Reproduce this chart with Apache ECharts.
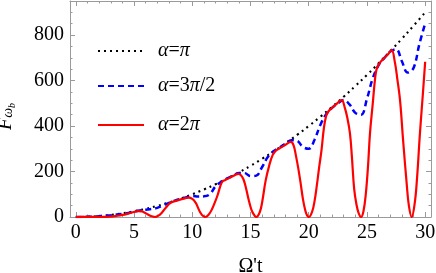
<!DOCTYPE html>
<html><head><meta charset="utf-8">
<script src="https://cdn.jsdelivr.net/npm/echarts@6/dist/echarts.min.js"></script>
<style>html,body{margin:0;padding:0;background:#fff}#c{width:436px;height:273px}</style>
</head><body><div id="c"></div>
<script>
const FONT = '"Liberation Serif","Times New Roman",serif';
const xTickLabels = [0, 5, 10, 15, 20, 25, 30];
const yTickLabels = [0, 200, 400, 600, 800];
const seriesNames = ['α=π', 'α=3π/2', 'α=2π'];

// α = π (dotted black)
const blackT = [0,1,2,3,4,5,6,7,8,9,10,11,12,13,14,15,16,17,18,19,20,21,22,23,24,25,26,27,28,29,30];
const blackF = [0,1,4,9,16,25,36,49,64,81,100,121,144,169,196,225,256,289,324,361,400,441,484,529,576,625,676,729,784,841,900];

// α = 3π/2 (dashed blue)
const blueT = [0,0.5,1,1.5,2,2.5,3,3.5,4,4.5,5,5.5,6,6.5,7,7.5,8,8.5,9,9.5,10,10.5,11,11.5,12,12.5,13,13.5,14,14.5,15,15.5,16,16.5,17,17.5,18,18.5,19,19.5,20,20.5,21,21.5,22,22.5,23,23.5,24,24.5,25,25.5,26,26.5,27,27.5,28,28.5,29,29.5,30];
const blueF = [0,0.2,1,2,3.5,5,7.5,11,14,18,24,29,32,35,40,51,62,72,80,87,92,90,91,100,135,155,170,182,194,193,180,182,220,265,290,306,322,338,335,308,300,340,405,452,480,500,515,495,458,450,520,610,668,700,728,738,685,635,655,760,851];

// α = 2π (solid red)
const redT = [0,1,2,2.5,3,3.5,4,4.5,5,5.35,5.7,6.0,6.3,6.6,6.8,
  7.1,7.4,7.7,8.0,8.2,8.4,8.8,9.2,9.65,10.0,10.3,10.5,10.65,10.85,11.1,
  11.4,11.7,12.0,12.2,12.4,12.6,12.8,13.2,13.6,13.96,14.2,14.4,14.6,14.8,15.0,15.2,15.5,
  15.8,16.0,16.3,16.6,16.9,17.2,17.6,18.0,18.47,18.7,18.9,19.1,19.3,19.5,19.7,19.85,20.0,
  20.3,20.5,20.7,20.9,21.1,21.3,21.5,21.7,22.0,22.4,22.83,23.1,23.3,23.54,23.7,23.9,24.1,24.3,24.5,
  24.7,24.9,25.1,25.26,25.5,25.7,25.85,26.1,26.5,26.8,27.12,27.4,27.6,27.84,28.1,28.41,28.6,28.84,
  29.1,29.3,29.55,29.8,30.0];
const redF = [0,0.3,0.5,0.5,2,5,9,15,22,26,24,17,8,2,0,
  6,20,39,57,64,68,74,80,85,80,62,40,23,8,0,
  10,35,72,100,135,157,162,172,183,190,183,165,130,85,45,18,0,
  22,65,160,225,272,293,305,318,330,315,270,215,150,80,30,8,0,
  25,70,140,220,295,390,445,465,480,498,514,480,440,368,270,125,55,15,0,
  25,100,230,368,500,610,655,678,700,715,734,680,610,514,340,148,50,0,
  60,170,368,540,683];

const pairs = (a, b) => a.map((v, i) => [v, b[i]]);
const xMinor = []; for (let i = 0; i <= 30; i++) if (i % 5) xMinor.push(i);
const yMinor = []; for (let v = 0; v <= 950; v += 50) if (v % 200) yMinor.push(v);
const GRAY = '#9a9a9a';
const XMIN = -0.5, XMAX = 30.5, YMIN = 0, YMAX = 950;

function xAxis(grid, pos, ticks, len, line, labels) {
  return {
    type: 'value', gridIndex: grid, position: pos, min: XMIN, max: XMAX,
    axisLine: { show: line, onZero: false, lineStyle: { color: GRAY, width: 1 } },
    axisTick: { show: true, inside: true, length: len, customValues: ticks, lineStyle: { color: GRAY, width: 1 } },
    axisLabel: { show: labels, customValues: ticks, fontFamily: FONT, fontSize: 20, color: '#000', margin: 6 },
    splitLine: { show: false }
  };
}
function yAxis(grid, pos, ticks, len, line, labels) {
  return {
    type: 'value', gridIndex: grid, position: pos, min: YMIN, max: YMAX,
    axisLine: { show: line, onZero: false, lineStyle: { color: GRAY, width: 1 } },
    axisTick: { show: true, inside: true, length: len, customValues: ticks, lineStyle: { color: GRAY, width: 1 } },
    axisLabel: { show: labels, customValues: ticks, fontFamily: FONT, fontSize: 20, color: '#000', margin: 6 },
    splitLine: { show: false }
  };
}

const gridBox = { left: 70, right: 5, top: 1, bottom: 56, outerBoundsMode: 'none', containLabel: false };
const xA0 = xAxis(0, 'bottom', xTickLabels, 5, true, true);
xA0.name = "Ω't"; xA0.nameLocation = 'middle'; xA0.nameGap = 40;
xA0.nameTextStyle = { fontFamily: FONT, fontSize: 20, color: '#000' };

const yA0 = yAxis(0, 'left', yTickLabels, 5, true, true);
yA0.name = '{f|F}{s|ω}{t|b}';
yA0.nameLocation = 'middle'; yA0.nameRotate = 90; yA0.nameGap = 51;
yA0.nameTextStyle = {
  padding: [0, 15, 0, 0],
  rich: {
    f: { fontFamily: FONT, fontSize: 20, fontStyle: 'italic', color: '#000', lineHeight: 26, verticalAlign: 'middle' },
    s: { fontFamily: FONT, fontSize: 14, fontStyle: 'italic', color: '#000', lineHeight: 14, verticalAlign: 'bottom', padding: [0, 0, 4, 0] },
    t: { fontFamily: FONT, fontSize: 10, fontStyle: 'italic', color: '#000', lineHeight: 10, verticalAlign: 'bottom', padding: [0, 0, 2, 0] }
  }
};

const legendBase = (name, top) => ({
  data: [name], left: 97, top: top, orient: 'vertical', padding: 0,
  itemWidth: 46, itemHeight: 14, selectedMode: false,
  itemStyle: { opacity: 0 },
  formatter: n => n === 'α=π' ? '{i|α}{n|=}{i|π}' : n === 'α=3π/2' ? '{i|α}{n|=3}{i|π}{n|/2}' : '{i|α}{n|=2}{i|π}',
  textStyle: {
    padding: [0, 0, 0, 9],
    rich: {
      i: { fontFamily: FONT, fontSize: 20, fontStyle: 'italic', color: '#000' },
      n: { fontFamily: FONT, fontSize: 20, color: '#000' }
    }
  }
});

const option = {
  animation: false,
  backgroundColor: '#fff',
  grid: [Object.assign({}, gridBox), Object.assign({}, gridBox)],
  xAxis: [xA0, xAxis(0, 'top', xTickLabels, 5, true, false),
          xAxis(1, 'bottom', xMinor, 2.5, false, false), xAxis(1, 'top', xMinor, 2.5, false, false)],
  yAxis: [yA0, yAxis(0, 'right', yTickLabels, 5, true, false),
          yAxis(1, 'left', yMinor, 2.5, false, false), yAxis(1, 'right', yMinor, 2.5, false, false)],
  legend: [legendBase(seriesNames[0], 41), legendBase(seriesNames[1], 76), legendBase(seriesNames[2], 115)],
  series: [
    { name: seriesNames[0], type: 'line', xAxisIndex: 0, yAxisIndex: 0, data: pairs(blackT, blackF),
      smooth: true, symbol: 'none', clip: true,
      lineStyle: { color: '#000', width: 2.1, type: [2, 4] }, itemStyle: { color: '#000' } },
    { name: seriesNames[1], type: 'line', xAxisIndex: 0, yAxisIndex: 0, data: pairs(blueT, blueF),
      smooth: 0.4, symbol: 'none', clip: true,
      lineStyle: { color: '#0000ff', width: 2.5, type: [6, 4] }, itemStyle: { color: '#0000ff' } },
    { name: seriesNames[2], type: 'line', xAxisIndex: 0, yAxisIndex: 0, data: pairs(redT, redF),
      smooth: 0.4, symbol: 'none', clip: true,
      lineStyle: { color: '#ff0000', width: 2.2 }, itemStyle: { color: '#ff0000' } },
    { type: 'line', xAxisIndex: 2, yAxisIndex: 2, data: [], symbol: 'none', silent: true }
  ]
};
const chart = echarts.init(document.getElementById('c'));
chart.setOption(option);
</script>
</body></html>
